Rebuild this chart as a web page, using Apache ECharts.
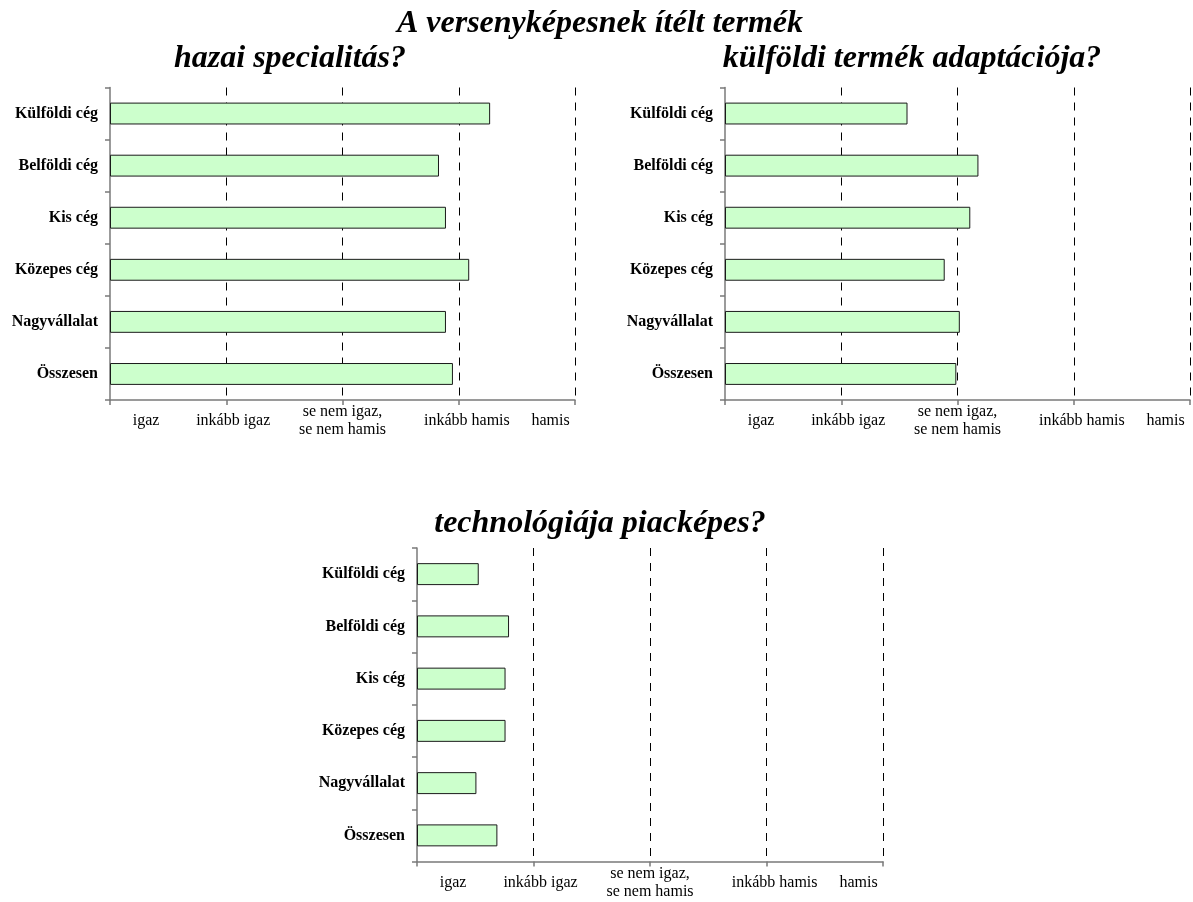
<!DOCTYPE html>
<html>
<head>
<meta charset="utf-8">
<script src="https://cdn.jsdelivr.net/npm/echarts@6/dist/echarts.min.js"></script>
<style>
  html, body { margin: 0; padding: 0; background: #fff; }
  #chart { width: 1193px; height: 902px; }
</style>
</head>
<body>
<div id="chart"></div>
<script>
// Company groups (top to bottom)
const categories = ['Külföldi cég', 'Belföldi cég', 'Kis cég', 'Közepes cég', 'Nagyvállalat', 'Összesen'];

// Mean answers on the 1 (igaz) .. 5 (hamis) scale
const hazaiSpecialitas = [4.27, 3.83, 3.89, 4.09, 3.89, 3.95];
const kulfoldiAdaptacio = [2.57, 3.18, 3.11, 2.89, 3.02, 2.99];
const technologiaPiackepes = [1.53, 1.79, 1.76, 1.76, 1.51, 1.69];

// Answer scale text and where each label sits on the scale
const scaleLabels = ['igaz', 'inkább igaz', 'se nem igaz,\nse nem hamis', 'inkább hamis', 'hamis'];
const scaleLabelAt = [1.31, 2.06, 3.0, 4.07, 4.79];

const mainTitle = 'A versenyképesnek ítélt termék';
const panelTitles = ['hazai specialitás?', 'külföldi termék adaptációja?', 'technológiája piacképes?'];

const SERIF = '"Liberation Serif", "Times New Roman", serif';
const AXIS_GREY = '#7a7a7a';

const grids = [
  { left: 110, width: 465, top: 87.5, height: 312.5 },
  { left: 725, width: 465, top: 87.5, height: 312.5 },
  { left: 417, width: 466, top: 548, height: 313.5 }
];

function xAxisFor(i) {
  return {
    type: 'value',
    gridIndex: i,
    min: 1,
    max: 5,
    interval: 1,
    startValue: 1,
    axisLine: { show: true, lineStyle: { color: AXIS_GREY, width: 1.5 } },
    axisTick: { show: true, length: 5, lineStyle: { color: AXIS_GREY, width: 1.5 } },
    splitLine: {
      show: true,
      showMinLine: false,
      showMaxLine: true,
      lineStyle: { color: '#000', width: 1, type: [8, 7] }
    },
    axisLabel: {
      customValues: scaleLabelAt,
      showMinLabel: true,
      showMaxLabel: true,
      hideOverlap: false,
      margin: 21,
      verticalAlign: 'middle',
      align: 'center',
      lineHeight: 18,
      fontFamily: SERIF,
      fontSize: 16,
      color: '#000',
      formatter: function (v) {
        let best = 0;
        for (let k = 1; k < scaleLabelAt.length; k++) {
          if (Math.abs(scaleLabelAt[k] - v) < Math.abs(scaleLabelAt[best] - v)) best = k;
        }
        return scaleLabels[best];
      }
    }
  };
}

function yAxisFor(i) {
  return {
    type: 'category',
    gridIndex: i,
    data: categories,
    inverse: true,
    axisLine: { show: true, lineStyle: { color: AXIS_GREY, width: 1.5 } },
    axisTick: { show: true, length: 5, lineStyle: { color: AXIS_GREY, width: 1.5 } },
    splitLine: { show: false },
    axisLabel: {
      margin: 12,
      fontFamily: SERIF,
      fontWeight: 'bold',
      fontSize: 16,
      color: '#000'
    }
  };
}

function barSeries(i, values) {
  return {
    type: 'bar',
    xAxisIndex: i,
    yAxisIndex: i,
    data: values,
    barWidth: '42%',
    silent: true,
    itemStyle: { color: '#ccffcc', borderColor: '#1a1a1a', borderWidth: 1 }
  };
}

const titleStyle = {
  fontFamily: SERIF,
  fontStyle: 'italic',
  fontWeight: 'bold',
  fontSize: 32,
  color: '#000'
};

const option = {
  backgroundColor: '#fff',
  animation: false,
  title: [
    { text: mainTitle, left: 600, top: 8, textAlign: 'center', padding: 0, textStyle: titleStyle },
    { text: panelTitles[0], left: 290, top: 43, textAlign: 'center', padding: 0, textStyle: titleStyle },
    { text: panelTitles[1], left: 912, top: 43, textAlign: 'center', padding: 0, textStyle: titleStyle },
    { text: panelTitles[2], left: 600, top: 508, textAlign: 'center', padding: 0, textStyle: titleStyle }
  ],
  grid: grids,
  xAxis: [xAxisFor(0), xAxisFor(1), xAxisFor(2)],
  yAxis: [yAxisFor(0), yAxisFor(1), yAxisFor(2)],
  series: [
    barSeries(0, hazaiSpecialitas),
    barSeries(1, kulfoldiAdaptacio),
    barSeries(2, technologiaPiackepes)
  ]
};

const chart = echarts.init(document.getElementById('chart'), null, { renderer: 'canvas' });
chart.setOption(option);
</script>
</body>
</html>
